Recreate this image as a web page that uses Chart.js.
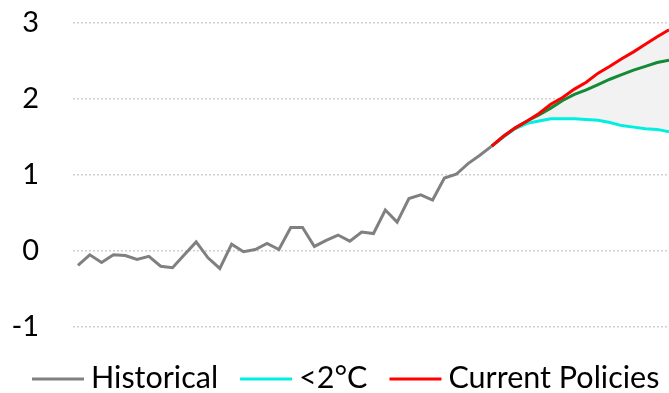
<!DOCTYPE html>
<html>
<head>
<meta charset="utf-8">
<script src="https://cdn.jsdelivr.net/npm/chart.js@4.4.1/dist/chart.umd.min.js"></script>
<style>
  html, body { margin: 0; padding: 0; background: #fff; }
  #wrap { width: 669px; height: 393px; }
</style>
</head>
<body>
<div id="wrap"><canvas id="c" width="669" height="393"></canvas></div>
<script>
// Observed temperature anomaly (°C), one value per year
const histYears = [1980,1981,1982,1983,1984,1985,1986,1987,1988,1989,
                   1990,1991,1992,1993,1994,1995,1996,1997,1998,1999,
                   2000,2001,2002,2003,2004,2005,2006,2007,2008,2009,
                   2010,2011,2012,2013,2014,2015];
const historical = [-0.19,-0.05,-0.15,-0.05,-0.06,-0.11,-0.07,-0.20,-0.22,-0.05,
                     0.12,-0.09,-0.23, 0.09,-0.01, 0.02, 0.10, 0.02, 0.31, 0.31,
                     0.06, 0.14, 0.21, 0.13, 0.25, 0.23, 0.54, 0.38, 0.69, 0.74,
                     0.67, 0.96, 1.01, 1.15, 1.26, 1.38];

// Scenario projections
const projYears = [2015,2016,2017,2018,2019,2020,2021,2022,2023,2024,
                   2025,2026,2027,2028,2029,2030];
const below2C   = [1.38,1.50,1.61,1.68,1.71,1.74,1.74,1.74,1.73,1.72,
                   1.69,1.65,1.63,1.61,1.60,1.57];
const pledges   = [1.38,1.51,1.62,1.71,1.79,1.88,1.98,2.06,2.12,2.19,
                   2.26,2.32,2.38,2.43,2.48,2.51];
const currentPolicies = [1.38,1.51,1.62,1.71,1.81,1.93,2.02,2.13,2.22,2.34,
                   2.43,2.53,2.62,2.72,2.82,2.91];

const yTicks = [-1, 0, 1, 2, 3];
const legendLabels = ['Historical', '<2°C', 'Current Policies'];

const FONT = 'Lato, "Open Sans", sans-serif';
const pts = (xs, ys) => xs.map((x, i) => ({ x: x, y: ys[i] }));

// Legend drawn as a row of line samples followed by labels
const lineLegend = {
  id: 'lineLegend',
  afterDraw(chart) {
    const ctx = chart.ctx;
    const items = chart.data.datasets.filter(d => d.showInLegend);
    ctx.save();
    ctx.font = '30.5px ' + FONT;
    ctx.textBaseline = 'middle';
    ctx.textAlign = 'left';
    let x = 32;
    const y = 379;
    items.forEach(d => {
      ctx.strokeStyle = d.borderColor;
      ctx.lineWidth = 3;
      ctx.beginPath();
      ctx.moveTo(x, y);
      ctx.lineTo(x + 52, y);
      ctx.stroke();
      x += 52 + 7;
      ctx.fillStyle = '#000';
      ctx.fillText(d.label, x, y - 1);
      x += ctx.measureText(d.label).width + 22;
    });
    ctx.restore();
  }
};

new Chart(document.getElementById('c'), {
  type: 'line',
  data: {
    datasets: [
      {
        label: legendLabels[0], showInLegend: true,
        data: pts(histYears, historical),
        borderColor: '#808080', borderWidth: 3, fill: false, order: 4
      },
      {
        label: legendLabels[1], showInLegend: true,
        data: pts(projYears, below2C),
        borderColor: '#00F0E0', borderWidth: 3, fill: false, order: 3
      },
      {
        label: legendLabels[2], showInLegend: true,
        data: pts(projYears, currentPolicies),
        borderColor: '#FF0000', borderWidth: 3,
        fill: { target: 1 }, backgroundColor: '#F2F2F2', order: 1
      },
      {
        label: '', showInLegend: false,
        data: pts(projYears, pledges),
        borderColor: '#138A36', borderWidth: 3, fill: false, order: 2
      }
    ]
  },
  options: {
    responsive: false,
    animation: false,
    layout: { padding: { top: 23, bottom: 66, left: 0, right: 0 } },
    elements: { point: { radius: 0 }, line: { tension: 0 } },
    plugins: {
      legend: { display: false },
      tooltip: { enabled: false },
      filler: { drawTime: 'beforeDatasetsDraw' }
    },
    scales: {
      x: {
        type: 'linear', display: false,
        min: 1979.58, max: 2030
      },
      y: {
        min: -1, max: 3,
        afterFit(scale) {
          scale.width = 73;
          scale.paddingTop = 0;
          scale.paddingBottom = 0;
        },
        afterBuildTicks(scale) { scale.ticks = yTicks.map(v => ({ value: v })); },
        border: { display: false, dash: [2, 2] },
        grid: { color: '#D0D0D0', lineWidth: 1.5, drawTicks: false },
        ticks: {
          padding: 34,
          color: '#000',
          font: { family: FONT, size: 29 }
        }
      }
    }
  },
  plugins: [lineLegend]
});
</script>
</body>
</html>
